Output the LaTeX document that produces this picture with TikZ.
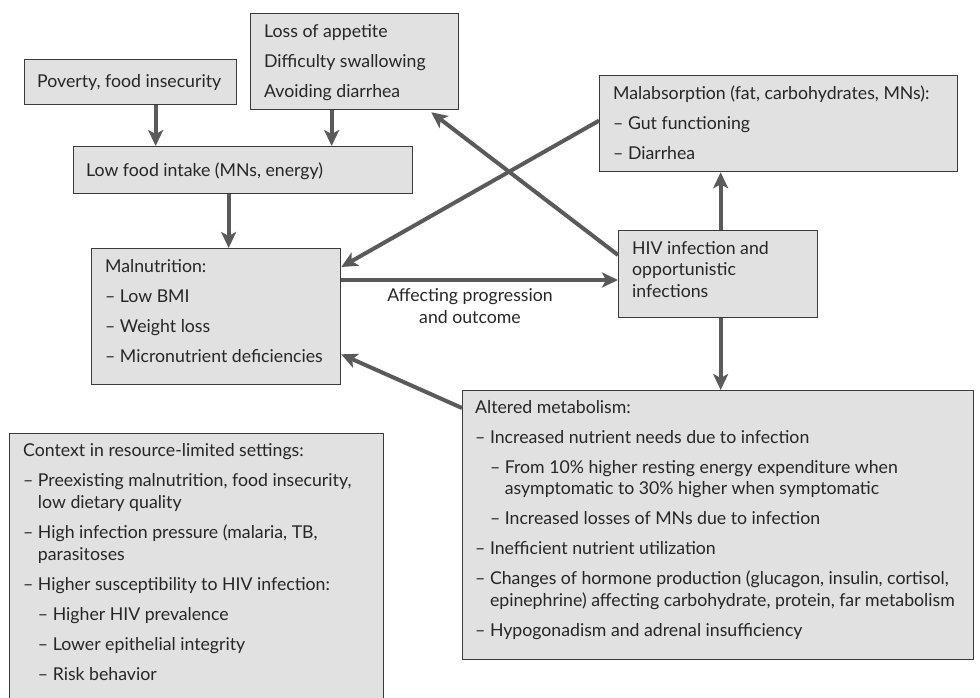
\documentclass[tikz,border=0pt]{standalone}
\usepackage{fontspec}
\setmainfont{Lato}
\usetikzlibrary{arrows.meta,calc}
\definecolor{boxfill}{HTML}{E1E1E1}
\definecolor{boxline}{HTML}{3A3A3A}
\definecolor{arrcol}{HTML}{5A5A5A}
\newcommand{\hd}{\phantom{– }}
\begin{document}
\begin{tikzpicture}[x=1pt,y=-1pt,
  box/.style={draw=boxline, fill=boxfill, line width=1.3pt, rectangle, inner sep=0pt, anchor=north west},
  txt/.style={anchor=north west, inner sep=0pt, align=left, text=black!85, font=\fontsize{17.7}{21.7}\selectfont},
  arr/.style={draw=arrcol, line width=4pt, -{Stealth[length=16pt,width=15pt,inset=4pt]}}]
\useasboundingbox (0,0) rectangle (980,697);
\clip (0,0) rectangle (980,697);

% boxes
\node[box, minimum width=212pt, minimum height=45pt] (pov) at (24,59) {};
\node[box, minimum width=208pt, minimum height=96pt] (loss) at (250,13) {};
\node[box, minimum width=339pt, minimum height=47pt] (low) at (73,146) {};
\node[box, minimum width=249pt, minimum height=136pt] (mal) at (91,248) {};
\node[box, minimum width=358pt, minimum height=96pt] (malabs) at (599,75) {};
\node[box, minimum width=199pt, minimum height=87pt] (hiv) at (618,230) {};
\node[box, minimum width=511pt, minimum height=269pt] (alt) at (462,390) {};
\node[box, minimum width=374pt, minimum height=290pt] (ctx) at (9,433) {};

% texts
\node[txt] (povT) at (37,71.8) {\strut Poverty, food insecurity};
\node[txt] (lossT) at (264,22.5) {\strut Loss of appetite\\[8.3pt]Difficulty swallowing\\[8.3pt]Avoiding diarrhea};
\node[txt] (lowT) at (86,160.8) {\strut Low food intake (MNs, energy)};
\node[txt] (malT) at (105,257.1) {\strut Malnutrition:\\[8.3pt]– Low BMI\\[8.3pt]– Weight loss\\[8.3pt]– Micronutrient deficiencies};
\node[txt] (malabsT) at (613,84.1) {\strut Malabsorption (fat, carbohydrates, MNs):\\[8.3pt]– Gut functioning\\[8.3pt]– Diarrhea};
\node[txt] (hivT) at (632,238.8) {\strut HIV infection and\\opportunistic\\infections};
\node[txt, anchor=north, align=center] (lab) at (470,286.5) {\strut Affecting progression\\and outcome};
\node[txt] (altT) at (475,397.6) {\strut Altered metabolism:\\[8.3pt]
– Increased nutrient needs due to infection\\[8.3pt]
\hd– From 10\% higher resting energy expenditure when\\
\hd\hd asymptomatic to 30\% higher when symptomatic\\[8.3pt]
\hd– Increased losses of MNs due to infection\\[8.3pt]
– Inefficient nutrient utilization\\[8.3pt]
– Changes of hormone production (glucagon, insulin, cortisol,\\
\hd epinephrine) affecting carbohydrate, protein, far metabolism\\[8.3pt]
– Hypogonadism and adrenal insufficiency};
\node[txt] (ctxT) at (23,441.5) {\strut Context in resource-limited settings:\\[8.3pt]
– Preexisting malnutrition, food insecurity,\\
\hd low dietary quality\\[8.3pt]
– High infection pressure (malaria, TB,\\
\hd parasitoses\\[8.3pt]
– Higher susceptibility to HIV infection:\\[8.3pt]
\hd– Higher HIV prevalence\\[8.3pt]
\hd– Lower epithelial integrity\\[8.3pt]
\hd– Risk behavior};

% arrows
\draw[arr] ([xshift=25pt]pov.south) -- ([xshift=25pt]pov.south |- low.north);
\draw[arr] ([xshift=-23pt]loss.south) -- ([xshift=-23pt]loss.south |- low.north);
\draw[arr] ([xshift=-14.5pt]low.south) -- ([xshift=-14.5pt]low.south |- mal.north);
\draw[arr] ([yshift=3pt]malabs.west) -- ([yshift=-19pt]mal.north east);
\draw[arr] ([yshift=-25pt]hiv.north west) -- ([xshift=-28pt,yshift=-2pt]loss.south east);
\coordinate (m1) at ([yshift=-32pt]mal.north east);
\draw[arr] (m1) -- (m1 -| hiv.west);
\draw[arr] ([xshift=2.5pt]hiv.north) -- ([xshift=2.5pt]hiv.north |- malabs.south);
\draw[arr] ([xshift=2.5pt]hiv.south) -- ([xshift=2.5pt]hiv.south |- alt.north);
\draw[arr] ([yshift=-18pt]alt.north west) -- ([yshift=31pt]mal.south east);
\end{tikzpicture}
\end{document}
